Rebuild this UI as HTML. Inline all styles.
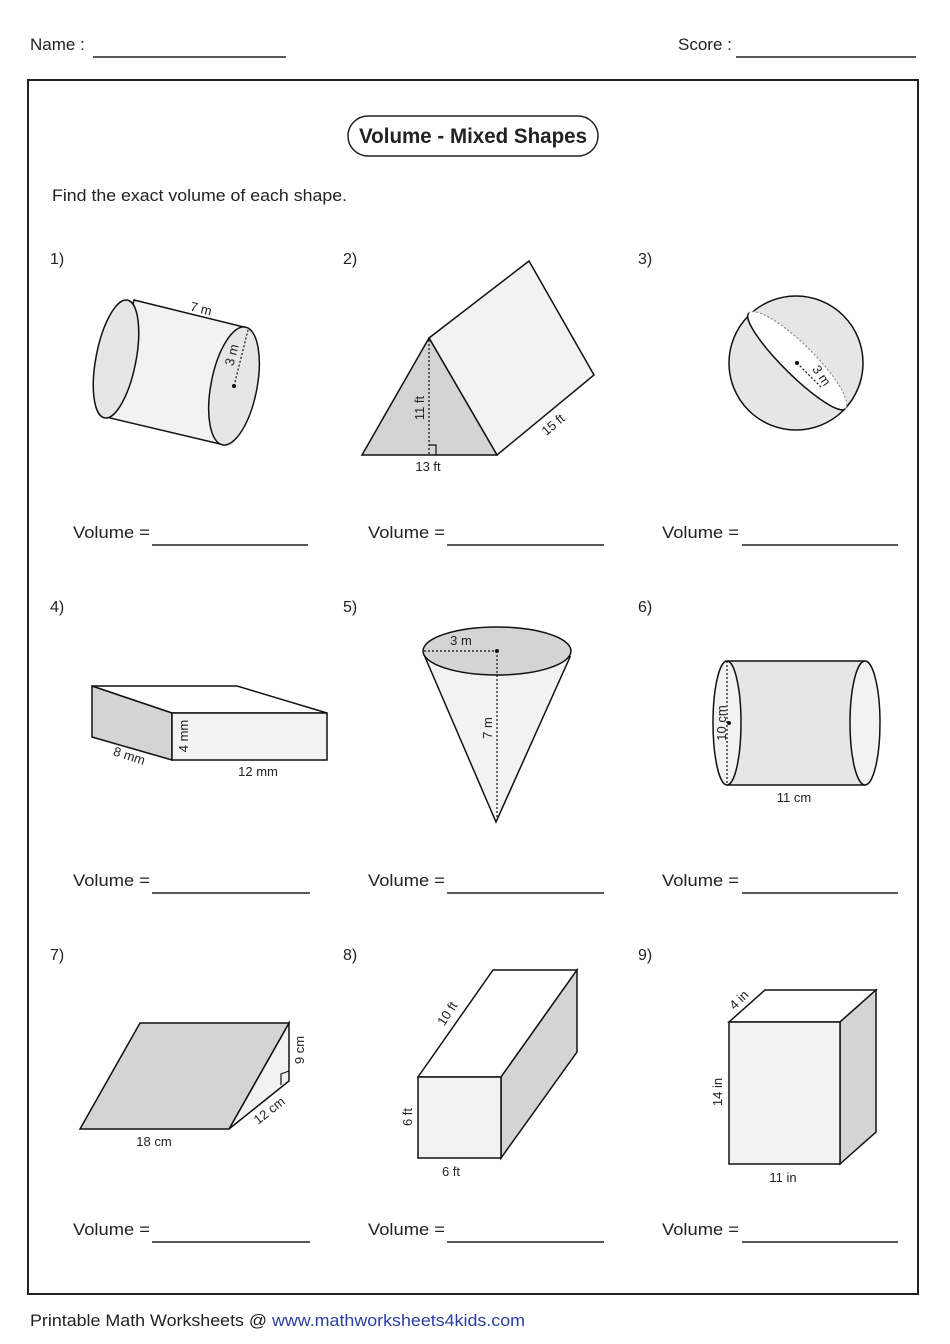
<!DOCTYPE html>
<html><head><meta charset="utf-8"><style>
html,body{margin:0;padding:0;background:#fff;}
svg{display:block;}
text{font-family:"Liberation Sans",sans-serif;fill:#222;}
</style></head><body>
<svg width="950" height="1344" viewBox="0 0 950 1344" xmlns="http://www.w3.org/2000/svg">
<g font-size="17">
<text x="30" y="50">Name :</text>
<line x1="93" y1="57" x2="286" y2="57" stroke="#222" stroke-width="1.5"/>
<text x="678" y="50">Score :</text>
<line x1="736" y1="57" x2="916" y2="57" stroke="#222" stroke-width="1.5"/>
</g>
<rect x="28" y="80" width="890" height="1214" fill="none" stroke="#222" stroke-width="2"/>
<rect x="348" y="116" width="250" height="40" rx="20" fill="#fff" stroke="#222" stroke-width="1.5"/>
<text x="473" y="143" font-size="21" font-weight="bold" text-anchor="middle" textLength="228" lengthAdjust="spacingAndGlyphs">Volume - Mixed Shapes</text>
<text x="52" y="201" font-size="17" textLength="295" lengthAdjust="spacingAndGlyphs">Find the exact volume of each shape.</text>

<g font-size="16">
<text x="50" y="264">1)</text><text x="343" y="264">2)</text><text x="638" y="264">3)</text>
<text x="50" y="612">4)</text><text x="343" y="612">5)</text><text x="638" y="612">6)</text>
<text x="50" y="960">7)</text><text x="343" y="960">8)</text><text x="638" y="960">9)</text>
</g>

<g font-size="17" stroke-width="1.5">
<text x="73" y="538" textLength="77" lengthAdjust="spacingAndGlyphs">Volume =</text><line x1="152" y1="545" x2="308" y2="545" stroke="#222"/>
<text x="368" y="538" textLength="77" lengthAdjust="spacingAndGlyphs">Volume =</text><line x1="447" y1="545" x2="604" y2="545" stroke="#222"/>
<text x="662" y="538" textLength="77" lengthAdjust="spacingAndGlyphs">Volume =</text><line x1="742" y1="545" x2="898" y2="545" stroke="#222"/>
<text x="73" y="886" textLength="77" lengthAdjust="spacingAndGlyphs">Volume =</text><line x1="152" y1="893" x2="310" y2="893" stroke="#222"/>
<text x="368" y="886" textLength="77" lengthAdjust="spacingAndGlyphs">Volume =</text><line x1="447" y1="893" x2="604" y2="893" stroke="#222"/>
<text x="662" y="886" textLength="77" lengthAdjust="spacingAndGlyphs">Volume =</text><line x1="742" y1="893" x2="898" y2="893" stroke="#222"/>
<text x="73" y="1235" textLength="77" lengthAdjust="spacingAndGlyphs">Volume =</text><line x1="152" y1="1242" x2="310" y2="1242" stroke="#222"/>
<text x="368" y="1235" textLength="77" lengthAdjust="spacingAndGlyphs">Volume =</text><line x1="447" y1="1242" x2="604" y2="1242" stroke="#222"/>
<text x="662" y="1235" textLength="77" lengthAdjust="spacingAndGlyphs">Volume =</text><line x1="742" y1="1242" x2="898" y2="1242" stroke="#222"/>
</g>

<text x="30" y="1326" font-size="17" textLength="495" lengthAdjust="spacingAndGlyphs">Printable Math Worksheets @ <tspan fill="#2a3ea0">www.mathworksheets4kids.com</tspan></text>

<g stroke="#111" stroke-width="1.5" font-size="13">
<!-- 1 cylinder -->
<path d="M134 300 L248 328 L220 444 L106 417 Z" fill="#f2f2f2"/>
<ellipse cx="116" cy="359" rx="20" ry="60" fill="#e6e6e6" transform="rotate(11 116 359)"/>
<ellipse cx="234" cy="386" rx="23" ry="60" fill="#e6e6e6" transform="rotate(11 234 386)"/>
<line x1="234" y1="386" x2="248" y2="330" stroke-dasharray="2 2" stroke-width="1.2"/>
<circle cx="234" cy="386" r="2" fill="#111" stroke="none"/>
<text x="200" y="313" stroke="none" transform="rotate(14 200 313)" text-anchor="middle">7 m</text>
<text x="236" y="356" stroke="none" transform="rotate(-75 236 356)" text-anchor="middle">3 m</text>

<!-- 2 prism -->
<path d="M429 338 L529 261 L594 375 L497 455 Z" fill="#f2f2f2"/>
<path d="M429 338 L362 455 L497 455 Z" fill="#d4d4d4"/>
<line x1="429" y1="340" x2="429" y2="455" stroke-dasharray="2 2" stroke-width="1.2"/>
<path d="M429 445 H436 V455" fill="none" stroke-width="1.2"/>
<text x="424" y="408" stroke="none" transform="rotate(-90 424 408)" text-anchor="middle">11 ft</text>
<text x="428" y="471" stroke="none" text-anchor="middle">13 ft</text>
<text x="556" y="428" stroke="none" transform="rotate(-40 556 428)" text-anchor="middle">15 ft</text>

<!-- 3 sphere -->
<circle cx="796" cy="363" r="67" fill="#e6e6e6"/>
<g transform="translate(797 361) rotate(44.7)">
<path d="M-68 0 A68 17 0 0 1 68 0 A68 14 0 0 1 -68 0 Z" fill="#fff" stroke="none"/>
<path d="M-68 0 A68 17 0 0 1 68 0" fill="none" stroke="#888" stroke-dasharray="2 2" stroke-width="1.2"/>
<path d="M-68 0 A68 14 0 0 0 68 0" fill="none"/>
</g>
<line x1="797" y1="363" x2="822" y2="388" stroke-dasharray="2 2" stroke-width="1.2"/>
<circle cx="797" cy="363" r="2" fill="#111" stroke="none"/>
<text x="818" y="378" stroke="none" transform="rotate(55 818 378)" text-anchor="middle">3 m</text>

<!-- 4 box -->
<path d="M92 686 L237 686 L327 713 L172 713 Z" fill="#fff"/>
<path d="M92 686 L172 713 L172 760 L92 737 Z" fill="#d4d4d4"/>
<rect x="172" y="713" width="155" height="47" fill="#f2f2f2"/>
<text x="188" y="736" stroke="none" transform="rotate(-90 188 736)" text-anchor="middle">4 mm</text>
<text x="128" y="760" stroke="none" transform="rotate(18 128 760)" text-anchor="middle">8 mm</text>
<text x="258" y="776" stroke="none" text-anchor="middle">12 mm</text>

<!-- 5 cone -->
<path d="M425 657 L496 822 L570 657 Z" fill="#f2f2f2"/>
<ellipse cx="497" cy="651" rx="74" ry="24" fill="#d4d4d4"/>
<line x1="424" y1="651" x2="497" y2="651" stroke-dasharray="2 2" stroke-width="1.2"/>
<line x1="497" y1="651" x2="497" y2="818" stroke-dasharray="2 2" stroke-width="1.2"/>
<circle cx="497" cy="651" r="2" fill="#111" stroke="none"/>
<text x="461" y="645" stroke="none" text-anchor="middle">3 m</text>
<text x="492" y="728" stroke="none" transform="rotate(-90 492 728)" text-anchor="middle">7 m</text>

<!-- 6 cylinder -->
<rect x="727" y="661" width="138" height="124" fill="#e6e6e6" stroke="none"/>
<line x1="727" y1="661" x2="865" y2="661"/><line x1="727" y1="785" x2="865" y2="785"/>
<ellipse cx="865" cy="723" rx="15" ry="62" fill="#f2f2f2"/>
<ellipse cx="727" cy="723" rx="14" ry="62" fill="#f2f2f2"/>
<line x1="727" y1="661" x2="727" y2="785" stroke-dasharray="2 2" stroke-width="1.2"/>
<circle cx="729" cy="723" r="2" fill="#111" stroke="none"/>
<text x="726" y="723" stroke="none" transform="rotate(-90 726 723)" text-anchor="middle">10 cm</text>
<text x="794" y="802" stroke="none" text-anchor="middle">11 cm</text>

<!-- 7 wedge -->
<path d="M229 1129 L289 1023 L289 1081 Z" fill="#f2f2f2"/>
<path d="M80 1129 L140 1023 L289 1023 L229 1129 Z" fill="#d4d4d4"/>
<path d="M289 1071 L281 1074 L281 1085" fill="none" stroke-width="1.2"/>
<text x="304" y="1050" stroke="none" transform="rotate(-90 304 1050)" text-anchor="middle">9 cm</text>
<text x="272" y="1114" stroke="none" transform="rotate(-38 272 1114)" text-anchor="middle">12 cm</text>
<text x="154" y="1146" stroke="none" text-anchor="middle">18 cm</text>

<!-- 8 box -->
<path d="M418 1077 L493 970 L577 970 L501 1077 Z" fill="#fff"/>
<path d="M501 1077 L577 970 L577 1052 L501 1158 Z" fill="#d4d4d4"/>
<rect x="418" y="1077" width="83" height="81" fill="#f2f2f2"/>
<text x="451" y="1016" stroke="none" transform="rotate(-57 451 1016)" text-anchor="middle">10 ft</text>
<text x="412" y="1117" stroke="none" transform="rotate(-90 412 1117)" text-anchor="middle">6 ft</text>
<text x="451" y="1176" stroke="none" text-anchor="middle">6 ft</text>

<!-- 9 box -->
<path d="M729 1022 L765 990 L876 990 L840 1022 Z" fill="#fff"/>
<path d="M840 1022 L876 990 L876 1132 L840 1164 Z" fill="#d4d4d4"/>
<rect x="729" y="1022" width="111" height="142" fill="#f2f2f2"/>
<text x="742" y="1003" stroke="none" transform="rotate(-45 742 1003)" text-anchor="middle">4 in</text>
<text x="722" y="1092" stroke="none" transform="rotate(-90 722 1092)" text-anchor="middle">14 in</text>
<text x="783" y="1182" stroke="none" text-anchor="middle">11 in</text>
</g>
</svg>
</body></html>
